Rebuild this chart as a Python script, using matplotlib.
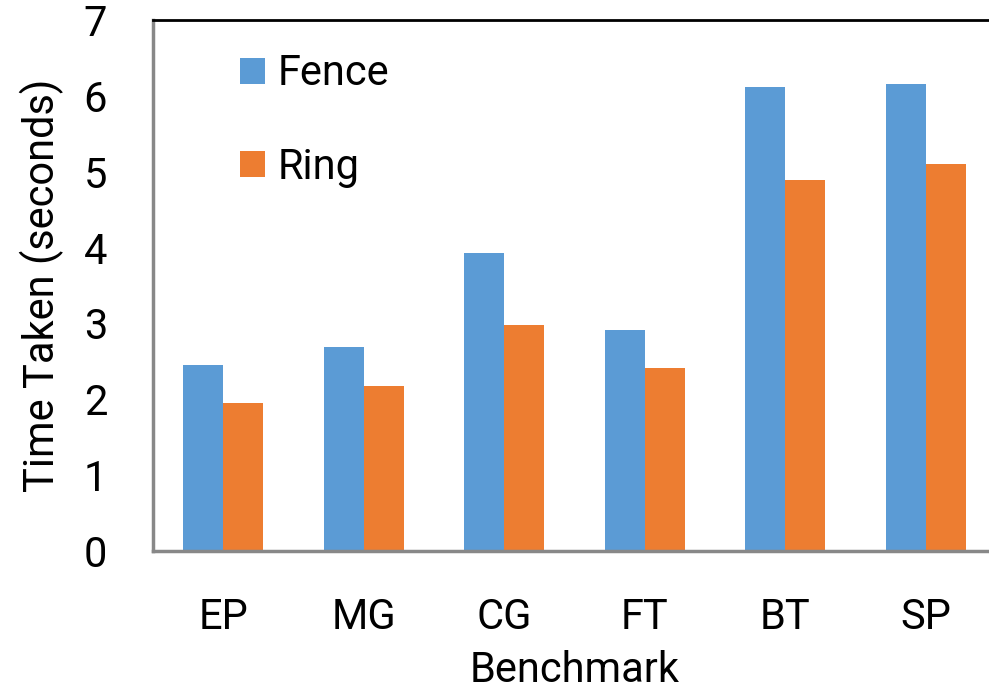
import matplotlib.pyplot as plt
import numpy as np

plt.rcParams['font.family'] = ['Roboto', 'DejaVu Sans']

benchmarks = ["EP", "MG", "CG", "FT", "BT", "SP"]
fence = [2.45, 2.69, 3.93, 2.91, 6.12, 6.16]
ring = [1.95, 2.17, 2.98, 2.41, 4.89, 5.10]

fig = plt.figure(figsize=(9.89, 6.97), dpi=100)
ax = fig.add_axes([0.1547, 0.2095, 0.8523, 0.7618])

x = np.arange(len(benchmarks))
w = 0.285
ax.bar(x - w / 2, fence, w, color="#5B9BD5", label="Fence")
ax.bar(x + w / 2, ring, w, color="#ED7D31", label="Ring")

ax.set_xlim(-0.5, len(benchmarks) - 0.5)
ax.set_ylim(0, 7)
ax.set_yticks(range(8))
ax.set_xticks(x)
ax.set_xticklabels(benchmarks)
ax.tick_params(axis="both", length=0, labelsize=30, pad=33)

ax.set_ylabel("Time Taken (seconds)", fontsize=30, labelpad=14)
ax.set_xlabel("Benchmark", fontsize=30, labelpad=9)

for side in ("left", "bottom"):
    ax.spines[side].set_color("#888888")
    ax.spines[side].set_linewidth(2.5)
ax.spines["right"].set_visible(False)
ax.spines["top"].set_color("black")
ax.spines["top"].set_linewidth(2)

ax.legend(loc="upper left", bbox_to_anchor=(0.103, 0.937), frameon=False,
          fontsize=30, handlelength=0.6, handleheight=0.6,
          handletextpad=0.3, labelspacing=1.26, borderpad=0, borderaxespad=0)

fig.savefig("out.png", dpi=100)
